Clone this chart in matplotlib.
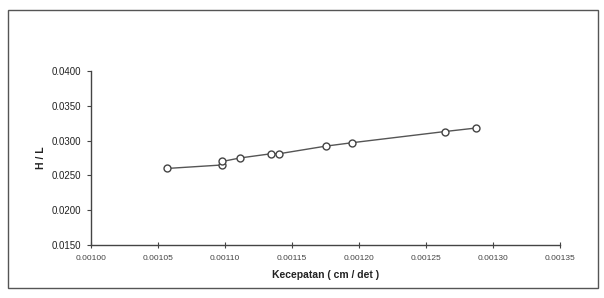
import matplotlib
matplotlib.use("Agg")
import matplotlib.pyplot as plt
from matplotlib.patches import Rectangle

# values
kecepatan = [0.001057, 0.001098, 0.001098, 0.001111, 0.001134,
             0.001140, 0.001175, 0.001195, 0.001264, 0.001287]
h_per_l = [0.0260, 0.0265, 0.0270, 0.0275, 0.0281,
           0.0281, 0.0292, 0.0297, 0.0313, 0.0318]

x_ticks = [0.00100, 0.00105, 0.00110, 0.00115, 0.00120, 0.00125, 0.00130, 0.00135]
y_ticks = [0.0150, 0.0200, 0.0250, 0.0300, 0.0350, 0.0400]

plt.rcParams["font.family"] = ["Liberation Sans", "DejaVu Sans"]

fig = plt.figure(figsize=(6.04, 2.98), dpi=100)
fig.patch.set_facecolor("white")

# outer frame of the pasted chart
fig.patches.append(Rectangle((8 / 604, 1 - 288 / 298), 590 / 604, 278 / 298,
                             transform=fig.transFigure, fill=False,
                             edgecolor="#555555", linewidth=1.0))

ax = fig.add_axes([91 / 604, 1 - 245 / 298, 469 / 604, 174 / 298])

ax.plot(kecepatan, h_per_l, color="#555555", linewidth=1.0, marker="o",
        markersize=5, markerfacecolor="white", markeredgecolor="#444444",
        markeredgewidth=1.0)

ax.set_xlim(0.00100, 0.00135)
ax.set_ylim(0.0150, 0.0400)
ax.set_xticks(x_ticks)
ax.set_yticks(y_ticks)
ax.set_xticklabels([f"{v:.5f}" for v in x_ticks], fontsize=6, color="#444444")
ax.set_yticklabels([f"{v:.4f}" for v in y_ticks], fontsize=7, color="#222222")

ax.tick_params(axis="x", direction="inout", length=4, width=0.8, color="#444444", pad=5)
ax.tick_params(axis="y", direction="out", length=3, width=0.8, color="#444444", pad=4)

for side in ["top", "right"]:
    ax.spines[side].set_visible(False)
for side in ["left", "bottom"]:
    ax.spines[side].set_color("#444444")
    ax.spines[side].set_linewidth(1.0)

ax.set_xlabel("Kecepatan ( cm / det )", fontsize=7.5, fontweight="bold",
              color="#222222", labelpad=6)
ax.set_ylabel("H / L", fontsize=7.5, fontweight="bold", color="#222222", labelpad=4)

fig.savefig("out.png", dpi=100, facecolor="white")
